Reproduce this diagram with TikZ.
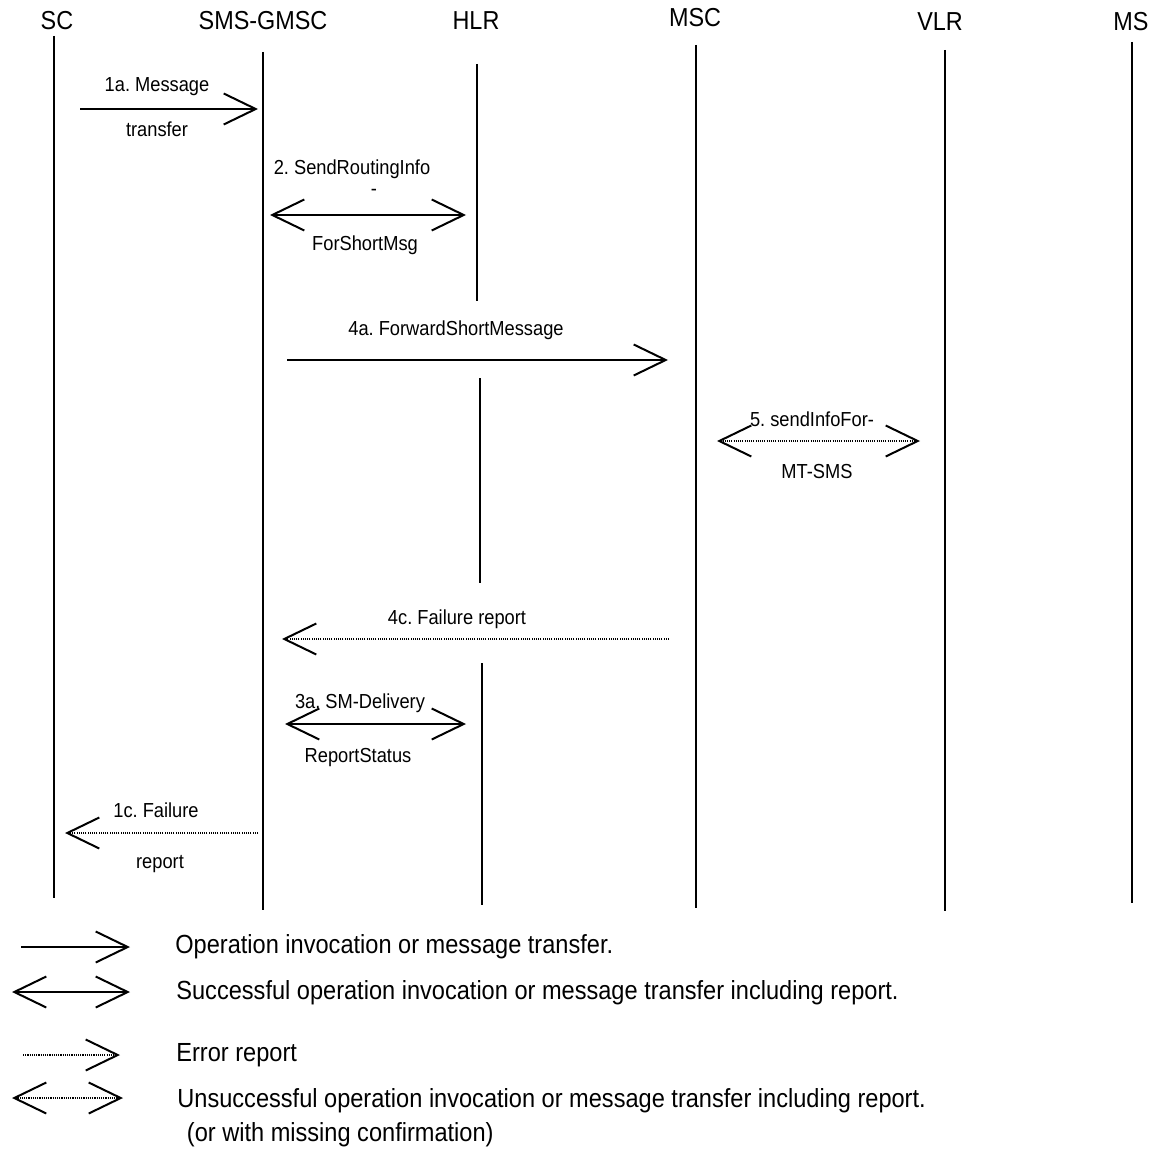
\documentclass[tikz,border=0pt]{standalone}
\usepackage{fontspec}
\setmainfont{Liberation Sans}[FakeStretch=0.9]
\usetikzlibrary{arrows.meta}
\frenchspacing
\begin{document}
\begin{tikzpicture}[x=0.5pt,y=-0.5pt,
  >={Straight Barb[length=16pt,width=15.5pt,line width=1pt]},
  head/.style={inner sep=0pt,anchor=base,font=\fontsize{13pt}{15pt}\selectfont},
  lbl/.style={inner sep=0pt,anchor=base,font=\fontsize{10.15pt}{12pt}\selectfont},
  leg/.style={inner sep=0pt,anchor=base west,font=\fontsize{13.1pt}{15pt}\selectfont},
  life/.style={line width=1pt},
  msg/.style={line width=1pt},
  err/.style={line width=0.55pt,dash pattern=on 0.55pt off 0.55pt}
]
\useasboundingbox (0,0) rectangle (1150,1155);

% ---------- heads ----------
\node[head] (SC)   at (57,29.5)  {SC};
\node[head] (GMSC) at (263,29.5) {SMS-GMSC};
\node[head] (HLR)  at (476,30)   {HLR};
\node[head] (MSC)  at (695,26.5) {MSC};
\node[head] (VLR)  at (940,30.5) {VLR};
\node[head] (MS)   at (1131,30.5) {MS};

% ---------- lifelines ----------
\coordinate (SCt) at (54,36);    \coordinate (SCb) at (54,898);
\coordinate (Gt)  at (263,52);   \coordinate (Gb)  at (263,910);
\coordinate (H1t) at (477,64);   \coordinate (H1b) at (477,301);
\coordinate (H2t) at (480,378);  \coordinate (H2b) at (480,583);
\coordinate (H3t) at (482,663);  \coordinate (H3b) at (482,905);
\coordinate (Mt)  at (696,45);   \coordinate (Mb)  at (696,908);
\coordinate (Vt)  at (945,50);   \coordinate (Vb)  at (945,911);
\coordinate (St)  at (1132,42);  \coordinate (Sb)  at (1132,903);
\draw[life] (SCt) -- (SCb);
\draw[life] (Gt) -- (Gb);
\draw[life] (H1t) -- (H1b);
\draw[life] (H2t) -- (H2b);
\draw[life] (H3t) -- (H3b);
\draw[life] (Mt) -- (Mb);
\draw[life] (Vt) -- (Vb);
\draw[life] (St) -- (Sb);

% ---------- messages ----------
% 1a
\coordinate (m1a) at (80,109); \coordinate (m1b) at (258,109);
\draw[msg,->] (m1a) -- (m1b);
\node[lbl] (l1a) at (157,91.5) {1a. Message};
\node[lbl] (l1b) at (157,137) {transfer};
% 2
\coordinate (m2a) at (270,215); \coordinate (m2b) at (466,215);
\draw[msg,<->] (m2a) -- (m2b);
\node[lbl] (l2a) at (352,175) {2. SendRoutingInfo};
\node[lbl] (l2b) at (374,196) {-};
\node[lbl] (l2c) at (365,250) {ForShortMsg};
% 4a
\coordinate (m4a) at (287,360); \coordinate (m4b) at (668,360);
\draw[msg,->] (m4a) -- (m4b);
\node[lbl] (l4a) at (456,335.5) {4a. ForwardShortMessage};
% 5
\coordinate (m5a) at (717,441); \coordinate (m5b) at (920,441);
\draw[err,<->] (m5a) -- (m5b);
\node[lbl] (l5a) at (812,426) {5. sendInfoFor-};
\node[lbl] (l5b) at (817,478) {MT-SMS};
% 4c
\coordinate (m4ca) at (669,639); \coordinate (m4cb) at (282,639);
\draw[err,->] (m4ca) -- (m4cb);
\node[lbl] (l4c) at (457,624) {4c. Failure report};
% 3a
\coordinate (m3a) at (285,724); \coordinate (m3b) at (466,724);
\draw[msg,<->] (m3a) -- (m3b);
\node[lbl] (l3a) at (360,708) {3a. SM-Delivery};
\node[lbl] (l3b) at (358,762) {ReportStatus};
% 1c
\coordinate (m1ca) at (258,833); \coordinate (m1cb) at (65,833);
\draw[err,->] (m1ca) -- (m1cb);
\node[lbl] (l1ca) at (156,817) {1c. Failure};
\node[lbl] (l1cb) at (160,868) {report};

% ---------- legend ----------
\coordinate (k1a) at (21,947);  \coordinate (k1b) at (130,947);
\coordinate (k2a) at (12,992);  \coordinate (k2b) at (130,992);
\coordinate (k3a) at (23,1055); \coordinate (k3b) at (120,1055);
\coordinate (k4a) at (12,1098); \coordinate (k4b) at (123,1098);
\draw[msg,->] (k1a) -- (k1b);
\draw[msg,<->] (k2a) -- (k2b);
\draw[err,->] (k3a) -- (k3b);
\draw[err,<->] (k4a) -- (k4b);
\node[leg] (t1) at (175,953) {Operation invocation or message transfer.};
\node[leg] (t2) at (176,999) {Successful operation invocation or message transfer including report.};
\node[leg] (t3) at (176,1061) {Error report};
\node[leg] (t4) at (177,1107) {Unsuccessful operation invocation or message transfer including report.};
\node[leg] (t5) at (180,1141) {\ (or with missing confirmation)};
\end{tikzpicture}
\end{document}
